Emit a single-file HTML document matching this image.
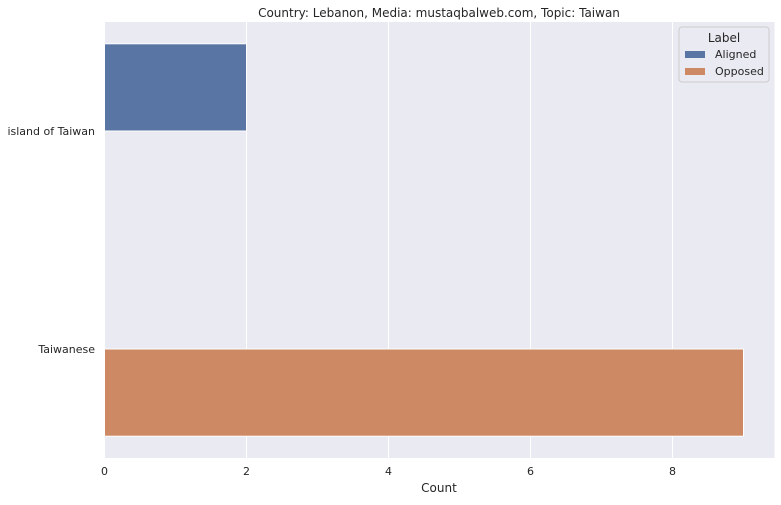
<!DOCTYPE html>
<html><head><meta charset="utf-8"><style>
body{margin:0;background:#fff;font-family:"DejaVu Sans","Liberation Sans",sans-serif;}
</style></head><body>
<svg width="781" height="501" xmlns="http://www.w3.org/2000/svg" font-family="DejaVu Sans, Liberation Sans, sans-serif">
<text x="439" y="17" text-anchor="middle" font-size="12" fill="#262626">Country: Lebanon, Media: mustaqbalweb.com, Topic: Taiwan</text>
<rect x="104.5" y="22" width="670" height="436" fill="#eaeaf2"/>
<g id="grid"></g>
<g id="bars"></g>
<g id="ticks"></g>
<text x="439" y="492" text-anchor="middle" font-size="12" fill="#262626">Count</text>
<g>
<rect x="679" y="27" width="90" height="55" rx="3" fill="#eaeaf2" fill-opacity="0.8" stroke="#cccccc"/>
<text x="724" y="42" text-anchor="middle" font-size="12" fill="#262626">Label</text>
<rect x="685" y="51" width="20" height="7" fill="#5975a4"/>
<text x="715" y="58" font-size="11" fill="#262626">Aligned</text>
<rect x="685" y="68" width="20" height="7" fill="#cc8963"/>
<text x="715" y="75" font-size="11" fill="#262626">Opposed</text>
</g>
</svg>
<script>
const categories=["island of Taiwan","Taiwanese"];
const aligned=[2,0];
const opposed=[0,9];
const xTicks=[0,2,4,6,8];
const NS="http://www.w3.org/2000/svg";
const x0=104.5, pxPerUnit=71;
const xs=v=>x0+v*pxPerUnit;
const yTop=22, bandPx=218;
const ys=i=>yTop+bandPx*0.5+i*bandPx;
function mk(tag,attrs,parent){const e=document.createElementNS(NS,tag);for(const k in attrs)e.setAttribute(k,attrs[k]);document.getElementById(parent).appendChild(e);return e;}
xTicks.forEach(t=>{
 const l=mk('line',{x1:xs(t),x2:xs(t),y1:22,y2:458,stroke:'#fff','stroke-width':1},'grid');
 
 
 const tx=mk('text',{x:xs(t),y:475,'text-anchor':'middle','font-size':11,fill:'#262626'},'ticks');
 tx.textContent=t;
 
 
});
categories.forEach((c,i)=>{
 const tx=mk('text',{x:95,y:ys(i)+4,'text-anchor':'end','font-size':11,fill:'#262626'},'ticks');
 tx.textContent=c;
 
 
 const h=bandPx*0.4;
 if(aligned[i]>0){
  const r=mk('rect',{x:xs(0),y:ys(i)-h,width:xs(aligned[i])-xs(0),height:h,fill:'#5975a4',stroke:'#fff','stroke-width':1},'bars');
  
  
 }
 if(opposed[i]>0){
  const r=mk('rect',{x:xs(0),y:ys(i),width:xs(opposed[i])-xs(0),height:h,fill:'#cc8963',stroke:'#fff','stroke-width':1},'bars');
  
  
 }
});
</script>
</body></html>
